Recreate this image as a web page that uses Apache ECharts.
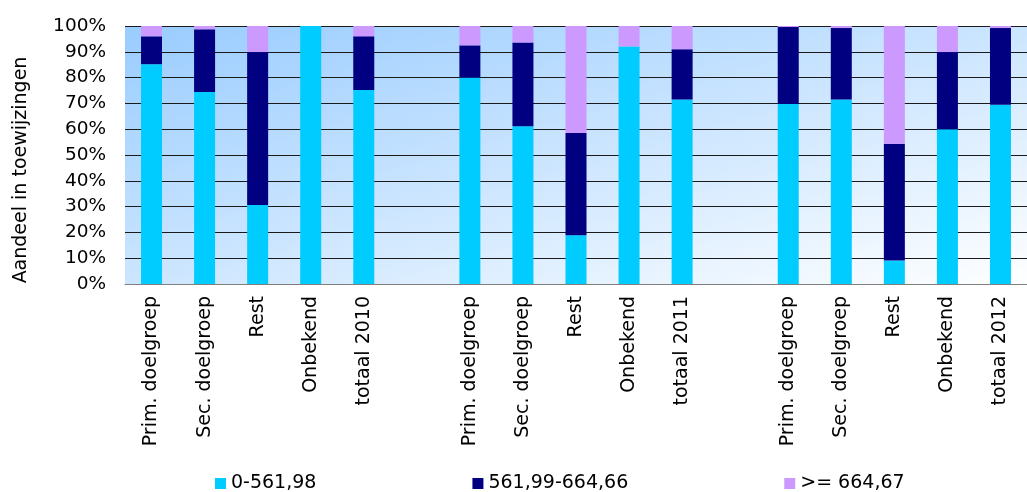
<!DOCTYPE html>
<html>
<head>
<meta charset="utf-8">
<script src="https://cdn.jsdelivr.net/npm/echarts@6/dist/echarts.min.js"></script>
<style>
html,body{margin:0;padding:0;background:#fff;}
#chart{width:1027px;height:492px;}
</style>
</head>
<body>
<div id="chart"></div>
<script>
var categories = ['Prim. doelgroep','Sec. doelgroep','Rest','Onbekend','totaal 2010','',
                  'Prim. doelgroep','Sec. doelgroep','Rest','Onbekend','totaal 2011','',
                  'Prim. doelgroep','Sec. doelgroep','Rest','Onbekend','totaal 2012'];
var seriesNames = ['0-561,98','561,99-664,66','>= 664,67'];
var low  = [85.2, 74.4, 30.6, 100, 75.2, null, 80.0, 61.1, 18.9, 92.1, 71.5, null, 69.8, 71.5,  9.1, 60.0, 69.5];
var mid  = [10.8, 24.3, 59.3,   0, 20.8, null, 12.5, 32.5, 39.6,  0.0, 19.5, null, 29.8, 27.7, 45.3, 29.9, 29.7];
var high = [ 4.0,  1.3, 10.1,   0,  4.0, null,  7.5,  6.4, 41.5,  7.9,  9.0, null,  0.4,  0.8, 45.6, 10.1,  0.8];
var yTicks = ['0%','10%','20%','30%','40%','50%','60%','70%','80%','90%','100%'];
var colors = ['#00CCFF','#000080','#CC99FF'];

var FONT = "'DejaVu Sans', Verdana, sans-serif";
var chart = echarts.init(document.getElementById('chart'), null, {renderer:'canvas'});
var values = [low, mid, high];

// plot box
var GL = 125, GT = 26, GW = 916, GH = 258;
var k = 2 / (1 / (GW * GW) + 1 / (GH * GH));
var gdx = k / GW, gdy = k / GH;

chart.setOption({
  animation: false,
  color: colors,
  textStyle: {fontFamily: FONT, color: '#000'},
  legend: {
    left: 210, top: 469,
    icon: 'rect', itemWidth: 11, itemHeight: 11, itemGap: 156,
    textStyle: {fontFamily: FONT, fontSize: 19, color: '#000'},
    data: seriesNames
  },
  grid: {
    left: GL, top: GT, width: GW, height: GH,
    show: true, borderWidth: 0,
    backgroundColor: new echarts.graphic.LinearGradient(GL, GT, GL + gdx, GT + gdy, [
      {offset: 0, color: '#99CCFF'},
      {offset: 1, color: '#FFFFFF'}
    ], true)
  },
  xAxis: {
    type: 'category',
    data: categories,
    axisTick: {show: false},
    axisLine: {show: true, lineStyle: {color: '#808080', width: 1}},
    axisLabel: {rotate: 90, interval: 0, margin: 12, fontSize: 19, fontFamily: FONT, color: '#000'}
  },
  yAxis: {
    type: 'value', min: 0, max: 100, interval: 10,
    name: 'Aandeel in toewijzingen',
    nameLocation: 'middle', nameGap: 94, nameRotate: 90,
    nameTextStyle: {fontSize: 19, fontFamily: FONT, color: '#000', padding: [0, 30, 0, 0]},
    axisLine: {show: false}, axisTick: {show: false},
    axisLabel: {margin: 19, fontSize: 18.5, fontFamily: FONT, color: '#000',
      formatter: function (v) { return yTicks[Math.round(v / 10)]; }},
    splitLine: {show: true, lineStyle: {color: '#1a1a1a', width: 1}}
  },
  series: values.map(function (arr, i) {
    return {
      name: seriesNames[i], type: 'bar', stack: 'total',
      barWidth: 21,
      itemStyle: {color: colors[i]},
      data: arr
    };
  })
});
</script>
</body>
</html>
